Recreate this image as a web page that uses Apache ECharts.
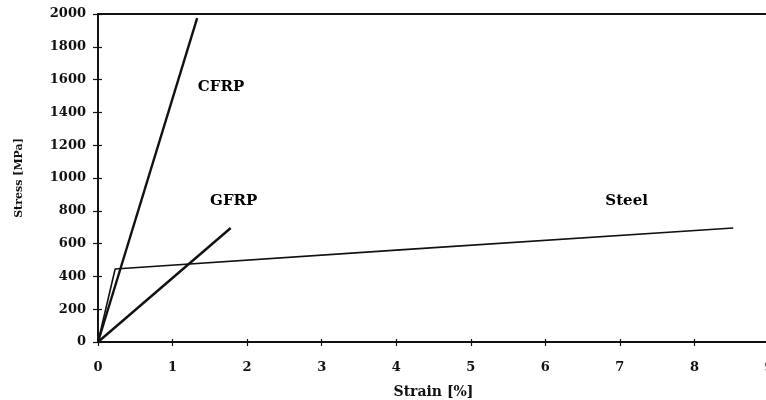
<!DOCTYPE html>
<html><head><meta charset="utf-8">
<script src="https://cdn.jsdelivr.net/npm/echarts@6/dist/echarts.min.js"></script>
<style>html,body{margin:0;padding:0;background:#fff}#c{width:766px;height:400px}</style>
</head><body><div id="c"></div>
<script>
var cfrp = [[0, 0], [1.33, 1975]];
var gfrp = [[0, 0], [1.78, 695]];
var steel = [[0, 0], [0.23, 445], [4, 560], [8.52, 695]];
var seriesNames = ['CFRP', 'GFRP', 'Steel'];
var labelPos = [[1.65, 1555], [1.82, 860], [7.09, 860]];
var xTicks = [0, 1, 2, 3, 4, 5, 6, 7, 8, 9];
var yTicks = [0, 200, 400, 600, 800, 1000, 1200, 1400, 1600, 1800, 2000];

var FONT = 'DejaVu Serif';
var ink = '#111';
var chart = echarts.init(document.getElementById('c'), null, {renderer: 'canvas'});
function xa(main) {
  return {
    type: 'value', min: xTicks[0], max: xTicks[xTicks.length - 1], interval: 1, position: 'bottom',
    name: main ? 'Strain [%]' : '', nameLocation: 'middle', nameGap: 43,
    nameTextStyle: {fontFamily: FONT, fontWeight: 'bold', fontSize: 14, color: ink},
    axisLine: {show: main, lineStyle: {color: ink, width: 1.5}},
    axisTick: {show: true, inside: !main, length: main ? 4 : 3, lineStyle: {color: ink, width: 1.2}},
    axisLabel: {show: main, margin: 19, fontFamily: FONT, fontWeight: 'bold', fontSize: 13, color: ink,
      formatter: function (v) { return String(v); }},
    splitLine: {show: false}
  };
}
function ya(main) {
  return {
    type: 'value', min: yTicks[0], max: yTicks[yTicks.length - 1], interval: 200, position: 'left',
    name: main ? 'Stress [MPa]' : '', nameLocation: 'middle', nameGap: 73,
    nameTextStyle: {fontFamily: FONT, fontWeight: 'bold', fontSize: 11, color: ink},
    axisLine: {show: main, lineStyle: {color: ink, width: 1.5}},
    axisTick: {show: true, inside: !main, length: main ? 5 : 4, lineStyle: {color: ink, width: 1.2}},
    axisLabel: {show: main, margin: 12, fontFamily: FONT, fontWeight: 'bold', fontSize: 13, color: ink,
      formatter: function (v) { return String(v); }},
    splitLine: {show: false}
  };
}
var datas = [cfrp, gfrp, steel];
var widths = [2.4, 2.4, 1.6];
var series = datas.map(function (d, i) {
  return {
    type: 'line', name: seriesNames[i], data: d, symbol: 'none', xAxisIndex: 0, yAxisIndex: 0,
    lineStyle: {color: ink, width: widths[i]}, animation: false, silent: true
  };
});
series.push({
  type: 'scatter', xAxisIndex: 0, yAxisIndex: 0, symbolSize: 1, silent: true, animation: false,
  itemStyle: {opacity: 0},
  data: labelPos.map(function (p, i) { return {value: p, name: seriesNames[i]}; }),
  label: {show: true, position: 'inside', formatter: '{b}', fontFamily: FONT, fontWeight: 'bold',
    fontSize: 15, color: '#000', opacity: 1, textBorderWidth: 0}
});
chart.setOption({
  animation: false,
  grid: {left: 98, right: -3, top: 14, bottom: 58, outerBoundsMode: 'none', containLabel: false,
    show: true, borderColor: ink, borderWidth: 1.8, backgroundColor: 'transparent'},
  xAxis: [xa(true), xa(false)],
  yAxis: [ya(true), ya(false)],
  series: series
});
</script></body></html>
